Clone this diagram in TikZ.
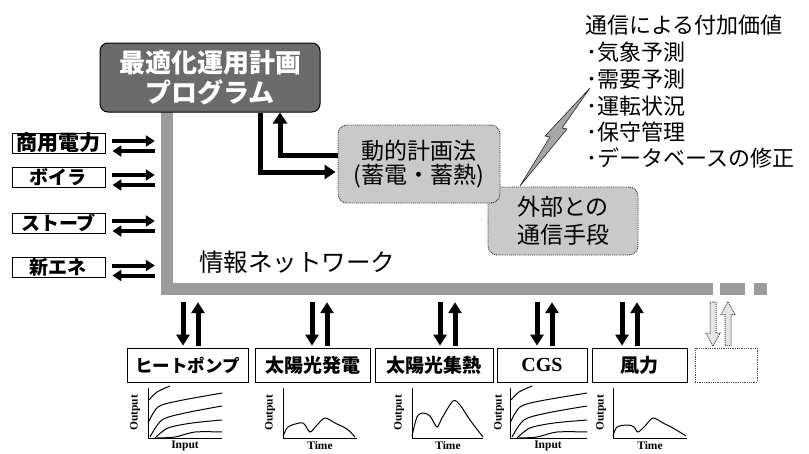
\documentclass[tikz,border=0pt]{standalone}
\usepackage{fontspec}
\newfontfamily\jp{Noto Sans CJK JP}
\newfontfamily\tms{Liberation Serif}
\usetikzlibrary{arrows.meta,calc}
\newcommand\fsz[1]{\fontsize{#1}{#1}\selectfont}
\begin{document}
\begin{tikzpicture}[x=1pt,y=-1pt,
  lbox/.style={draw, line width=0.8pt, minimum width=93pt, minimum height=20pt, inner sep=0pt, font=\jp\bfseries\fsz{19}},
  bbox/.style={draw, line width=0.8pt, minimum height=34pt, inner sep=0pt, font=\jp\bfseries\fsz{19}},
  softbox/.style={draw=black!85, densely dotted, line width=0.9pt, fill=gray!42, rounded corners=9pt, align=center, inner sep=0pt, font=\jp\fsz{23}},
  netbar/.style={fill=gray!78, inner sep=0pt, minimum height=12pt},
  harr/.style={line width=4pt, -{Triangle[width=11pt,length=9pt]}},
  varr/.style={line width=5pt, -{Triangle[width=13pt,length=11pt]}},
  bigarr/.style={line width=5pt, -{Triangle[width=14pt,length=11pt]}},
  dotarr/.style={draw=gray!60!black, densely dotted, line width=1pt, fill=gray!20},
  axisline/.style={line width=0.9pt},
  curve/.style={line width=1pt},
  axlabel/.style={font=\tms\bfseries\fsz{11.5}, inner sep=0pt},
  plain/.style={anchor=west, inner sep=0pt, font=\jp\fsz{22}}
]
\useasboundingbox (0,0) rectangle (809,453);

% network bars
\node[netbar, minimum width=12pt, minimum height=183pt] (vbar) at (167,203.5) {};
\node[netbar, minimum width=552pt] (hbar) at (437,289) {};
\node[netbar, minimum width=25pt] (hbar2) at (732.5,289) {};
\node[netbar, minimum width=13pt] (hbar3) at (760.5,289) {};
\node[anchor=west, inner sep=0pt, font=\jp\fsz{24.5}] (net) at (199,262) {情報ネットワーク};

% top program box
\node[draw=black, line width=1pt, fill=black!58, rounded corners=8pt, minimum width=220pt, minimum height=69pt, align=center, text=white, font=\jp\bfseries\fsz{26}, inner sep=0pt] (opt) at (210,77.5) {最適化運用計画\\[4pt]プログラム};

% lightning
\draw[fill=gray!70, draw=black!85, line width=0.6pt] (520,186) -- (550,137) -- (545,136) -- (590,88) -- (562,128) -- (567,129) -- cycle;

% soft boxes
\node[softbox, minimum width=150pt, minimum height=68pt] (ext) at (563,221) {外部との\\[5pt]通信手段};
\node[softbox, minimum width=162pt, minimum height=78pt] (dyn) at (419,164) {動的計画法\\[1pt](蓄電・蓄熱)};

% arrows between program and dynamic planning
\draw[bigarr] ($(opt.south)+(50,0)$) |- ($(dyn.west)+(-2,8)$);
\draw[bigarr] (dyn.west |- 0,155) -| ($(opt.south)+(70,0)$);

% right text
\node[plain] (vt) at (585,25) {通信による付加価値};
\node[plain] (v1) at (586,52) {･気象予測};
\node[plain] (v2) at (586,79) {･需要予測};
\node[plain] (v3) at (586,106) {･運転状況};
\node[plain] (v4) at (586,132) {･保守管理};
\node[plain] (v5) at (586,158) {･データベースの修正};

% left boxes
\node[lbox, font=\jp\bfseries\fsz{21}] (b1) at (58.5,143) {商用電力};
\node[lbox] (b2) at (58.5,177) {ボイラ};
\node[lbox] (b3) at (58.5,223) {ストーブ};
\node[lbox] (b4) at (58.5,267.5) {新エネ};
\foreach \b in {b1,b2,b3,b4}{
  \draw[harr] ($(\b.east)+(7,-2)$) -- ($(\b.east -| vbar.west)+(-6,-2)$);
  \draw[harr] ($(\b.east -| vbar.west)+(-6,8)$) -- ($(\b.east)+(7,8)$);
}

% bottom boxes
\node[bbox, minimum width=121pt, font=\jp\bfseries\fsz{17.5}] (hp) at (187.5,365) {ヒートポンプ};
\node[bbox, minimum width=115pt] (pv) at (312.5,365) {太陽光発電};
\node[bbox, minimum width=118pt] (st) at (434,365) {太陽光集熱};
\node[bbox, minimum width=90pt, font=\tms\bfseries\fsz{20}] (cgs) at (542,365) {CGS};
\node[bbox, minimum width=95pt] (wind) at (639.5,365) {風力};
\node[bbox, draw=black!70, densely dotted, minimum width=62pt] (d6) at (726,365) {};

\foreach \bx/\dl/\du in {hp/-4.5/10.5, pv/-0.5/14.5, st/6/21, cgs/-5/10, wind/-17.5/-2.5}{
  \draw[varr] ($(hbar.south -| \bx.north)+(\dl,7)$) -- ($(\bx.north)+(\dl,-2)$);
  \draw[varr] ($(\bx.north)+(\du,-2)$) -- ($(hbar.south -| \bx.north)+(\du,7)$);
}
\draw[dotarr] ($(hbar.south -| d6.north)+(-16,7)$) -- ++(6,0) -- ++(0,31) -- ++(4,0) -- ++(-7,13) -- ++(-7,-13) -- ++(4,0) -- cycle;
\draw[dotarr] ($(d6.north)+(-1,-2)$) -- ++(6,0) -- ++(0,-31) -- ++(4,0) -- ++(-7,-13) -- ++(-7,13) -- ++(4,0) -- cycle;

% graphs: heat pump
\begin{scope}[shift={(148,438)}]
\draw[axisline] (0,-50) -- (0,0) -- (74,0);
\draw[curve] plot[smooth] coordinates {(1,-38) (9,-46) (22,-52)};
\draw[curve] plot[smooth] coordinates {(0,-15) (10,-31) (30,-37) (74,-45)};
\draw[curve] plot[smooth] coordinates {(2,-1) (14,-18) (37,-25) (74,-32)};
\draw[curve] plot[smooth] coordinates {(7,0) (20,-10) (44,-15) (74,-18)};
\draw[curve] plot[smooth] coordinates {(9,0) (27,-1) (47,-6) (74,-6)};
\node[axlabel, rotate=90] at (-13,-25) {Output};
\node[axlabel] at (37,8) {Input};
\end{scope}
% CGS
\begin{scope}[shift={(510,438)}]
\draw[axisline] (0,-50) -- (0,0) -- (77,0);
\draw[curve] plot[smooth] coordinates {(1,-38) (9,-46) (22,-52)};
\draw[curve] plot[smooth] coordinates {(0,-15) (10,-31) (30,-37) (77,-45)};
\draw[curve] plot[smooth] coordinates {(2,-1) (14,-18) (37,-25) (77,-32)};
\draw[curve] plot[smooth] coordinates {(7,0) (20,-10) (44,-15) (77,-18)};
\draw[curve] plot[smooth] coordinates {(9,0) (27,-1) (47,-6) (77,-6)};
\node[axlabel, rotate=90] at (-11,-25) {Output};
\node[axlabel] at (38,8) {Input};
\end{scope}
% PV
\draw[axisline] (283,388) -- (283,438) -- (357,438);
\draw[curve] plot[smooth] coordinates {(283,436) (287,428) (292,425) (303,423) (310,432) (317,425) (325,418) (335,423) (347,429) (355,437)};
\node[axlabel, rotate=90] at (270,413) {Output};
\node[axlabel] at (320,446) {Time};
% solar heat
\draw[axisline] (412,388) -- (412,438) -- (483,438);
\draw[curve] plot[smooth] coordinates {(412,436) (417,417) (423,413) (430,416) (437,427) (442,418) (453,401) (460,405) (470,420) (483,437)};
\node[axlabel, rotate=90] at (399,413) {Output};
\node[axlabel] at (448,446) {Time};
% wind
\draw[axisline] (613,388) -- (613,438) -- (687,438);
\draw[curve] plot[smooth] coordinates {(613,436) (617,427) (628,425) (634,427) (638,432) (645,426) (653,418) (663,423) (673,428) (686,436)};
\node[axlabel, rotate=90] at (601,413) {Output};
\node[axlabel] at (650,446) {Time};
\end{tikzpicture}
\end{document}
